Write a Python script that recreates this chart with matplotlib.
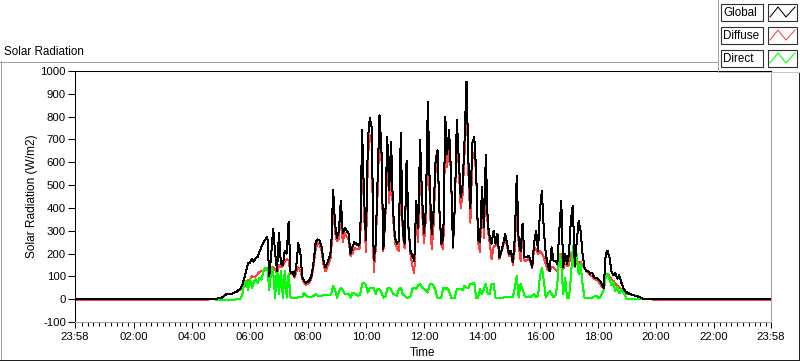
import numpy as np
import matplotlib
matplotlib.use('Agg')
import matplotlib.pyplot as plt
from matplotlib.lines import Line2D
from matplotlib.patches import Rectangle

plt.rcParams['font.family'] = ['Liberation Sans', 'DejaVu Sans']

# ---------------- data (W/m2), 4-minute samples, one row per hour 04..19 ----
row_hours = list(range(4, 20))
sample_minutes = list(range(0, 60, 4))

global_rows = [
    [0, 0, 0, 0, 0, 0, 0, 0, 0, 0, 0, 0, 2, 3, 4],
    [5, 10, 18, 22, 22, 24, 25, 29, 32, 40, 45, 62, 90, 120, 160],
    [160, 175, 165, 180, 185, 210, 230, 250, 262, 272, 100, 200, 310, 205, 125],
    [290, 155, 150, 212, 200, 340, 115, 120, 100, 150, 245, 210, 100, 78, 70],
    [78, 85, 110, 170, 250, 262, 256, 230, 170, 140, 160, 180, 215, 480, 330],
    [270, 300, 432, 290, 314, 300, 287, 199, 230, 250, 243, 235, 250, 740, 450],
    [260, 700, 795, 750, 170, 240, 520, 806, 660, 220, 360, 710, 480, 690, 390],
    [270, 243, 256, 727, 300, 243, 608, 315, 212, 190, 168, 430, 310, 696, 447],
    [290, 400, 865, 491, 287, 389, 608, 652, 389, 243, 271, 799, 638, 740, 550],
    [230, 419, 785, 620, 447, 500, 700, 953, 600, 400, 683, 711, 560, 260, 250],
    [491, 315, 630, 330, 271, 243, 300, 243, 287, 183, 212, 243, 287, 243, 199],
    [212, 161, 271, 542, 243, 212, 330, 183, 183, 190, 175, 140, 250, 300, 212],
    [389, 476, 300, 199, 150, 124, 227, 168, 168, 155, 300, 432, 140, 199, 155],
    [200, 350, 410, 145, 250, 344, 300, 200, 139, 124, 124, 111, 117, 95, 95],
    [88, 80, 67, 50, 199, 212, 180, 120, 105, 115, 90, 105, 75, 51, 36],
    [29, 25, 22, 18, 16, 15, 10, 7, 3, 1, 0, 0, 0, 0, 0],
]

diffuse_rows = [
    [-4, -4, -4, -4, -4, -4, -4, -4, -4, 0, 0, 0, 2, 3, 4],
    [5, 10, 18, 22, 22, 24, 25, 29, 32, 40, 43, 48, 55, 62, 85],
    [85, 100, 95, 100, 110, 120, 125, 125, 128, 135, 70, 110, 140, 130, 110],
    [150, 140, 145, 165, 175, 170, 110, 115, 95, 120, 140, 125, 90, 70, 62],
    [68, 75, 98, 150, 220, 245, 240, 212, 152, 122, 140, 160, 190, 420, 290],
    [255, 265, 380, 250, 290, 275, 262, 190, 200, 225, 220, 218, 228, 660, 380],
    [205, 620, 720, 680, 120, 215, 460, 740, 620, 212, 345, 640, 420, 620, 360],
    [245, 225, 210, 660, 280, 225, 595, 305, 200, 145, 115, 380, 250, 620, 390],
    [245, 355, 820, 420, 220, 325, 565, 640, 380, 235, 220, 750, 580, 700, 540],
    [222, 410, 740, 575, 400, 460, 640, 900, 550, 335, 615, 640, 550, 250, 205],
    [465, 270, 560, 305, 248, 175, 230, 235, 278, 175, 205, 235, 275, 232, 188],
    [200, 150, 220, 440, 235, 168, 290, 168, 170, 175, 165, 135, 225, 220, 200],
    [210, 200, 183, 150, 130, 124, 139, 139, 130, 124, 168, 199, 130, 155, 145],
    [150, 200, 212, 140, 168, 160, 165, 150, 135, 124, 115, 105, 100, 90, 85],
    [80, 67, 55, 45, 111, 111, 100, 85, 80, 67, 58, 51, 44, 40, 30],
    [25, 22, 20, 18, 16, 15, 10, 7, 3, 1, 0, 0, 0, 0, -4],
]

direct_rows = [
    [0, 0, 0, 0, 0, 0, 0, 0, 0, 0, 0, 0, 0, -3, -3],
    [-3, -3, -3, -3, -3, -3, -3, -2, 0, 0, 2, 20, 67, 80, 40],
    [90, 50, 75, 88, 70, 95, 85, 125, 138, 133, 40, 139, 124, 7, 139],
    [22, 124, 7, 124, 7, 110, 7, 7, 7, 7, 8, 8, 10, 29, 15],
    [10, 10, 10, 15, 22, 15, 15, 15, 18, 18, 20, 18, 22, 58, 40],
    [7, 30, 51, 40, 22, 22, 22, 7, 29, 25, 20, 15, 20, 67, 73],
    [60, 29, 51, 51, 51, 22, 44, 44, 30, 7, 10, 44, 51, 44, 22],
    [20, 15, 44, 51, 22, 15, 7, 7, 10, 44, 51, 44, 60, 67, 51],
    [44, 40, 29, 67, 67, 60, 36, 7, 7, 7, 51, 44, 51, 36, 7],
    [7, 7, 44, 44, 44, 40, 58, 51, 51, 67, 67, 73, 7, 7, 44],
    [22, 44, 67, 22, 22, 67, 67, 7, 7, 7, 7, 7, 10, 10, 10],
    [10, 10, 51, 102, 7, 67, 40, 15, 10, 12, 10, 15, 22, 10, 12],
    [102, 139, 80, 7, 22, 36, 22, 10, 15, 67, 199, 155, 22, 95, 7],
    [7, 95, 234, 139, 199, 111, 155, 67, 7, 7, 7, 7, 7, 10, 15],
    [7, 7, 22, 40, 95, 111, 85, 60, 75, 35, 54, 25, 40, 36, 15],
    [0, 0, 0, 0, 0, 0, 0, 0, 0, 0, 0, 0, 0, 0, 0],
]

# night values at the very start (23:58 previous day) and end (23:58)
night_global = 0
night_diffuse = -4
night_direct = 0

series_names = ['Global', 'Diffuse', 'Direct']
series_colors = ['#000000', '#FF4040', '#00FF00']

x_major_labels = ['23:58', '02:00', '04:00', '06:00', '08:00', '10:00', '12:00',
                  '14:00', '16:00', '18:00', '20:00', '22:00', '23:58']
y_ticks = [-100, 0, 100, 200, 300, 400, 500, 600, 700, 800, 900, 1000]

# ---------------- build time axis ----------------
t_start = -2 / 60.0
t_end = 24 - 2 / 60.0
grid = [h + m / 60.0 for h in row_hours for m in sample_minutes]
t = np.concatenate([[t_start], grid, [t_end]])

def build(rows, night):
    return np.concatenate([[night], np.concatenate([np.asarray(r, float) for r in rows]), [night]])

g = build(global_rows, night_global)
f = build(diffuse_rows, night_diffuse)
d = build(direct_rows, night_direct)

# ---------------- figure ----------------
W, H = 800, 361
fig = plt.figure(figsize=(W / 100, H / 100), dpi=100)
fig.patch.set_facecolor('white')

def fx(x):
    return x / W

def fy(y):
    return 1 - y / H

ax = fig.add_axes([fx(75), fy(322), (771 - 75) / W, (322 - 71) / H])
ax.set_facecolor('white')

lw = 0.72
ax.plot(t, f, color=series_colors[1], lw=lw, antialiased=False, zorder=2)
ax.plot(t, d, color=series_colors[2], lw=lw, antialiased=False, zorder=3)
ax.plot(t, g, color=series_colors[0], lw=lw, antialiased=False, zorder=4)

ax.set_xlim(t_start, t_end)
ax.set_ylim(-100, 1000)

major_pos = [t_start] + [float(h) for h in range(2, 24, 2)] + [t_end]
ax.set_xticks(major_pos)
ax.set_xticklabels(x_major_labels)
minor_pos = [m / 60.0 for m in range(0, 24 * 60, 12) if m % 120 != 0]
ax.set_xticks(minor_pos, minor=True)
ax.set_yticks(y_ticks)
ax.set_yticklabels([str(v) for v in y_ticks])

ax.tick_params(axis='x', which='major', direction='out', length=4.5, width=0.75,
               pad=3, labelsize=8.2, colors='black')
ax.tick_params(axis='x', which='minor', direction='out', length=2.8, width=0.75)
ax.tick_params(axis='y', which='major', direction='out', length=5, width=0.75,
               pad=1.5, labelsize=8.2, colors='black')

for side, col in [('top', 'black'), ('left', 'black'), ('right', '#A0A0A0'), ('bottom', '#A0A0A0')]:
    ax.spines[side].set_color(col)
    ax.spines[side].set_linewidth(0.75)

ax.set_ylabel('Solar Radiation (W/m2)', fontsize=8.6, labelpad=2)
ax.set_xlabel('Time', fontsize=8.4, labelpad=3)

# ---------------- panel frame ----------------
def hline(y, x0, x1, color, lw=0.72):
    fig.add_artist(Line2D([fx(x0), fx(x1)], [fy(y), fy(y)], transform=fig.transFigure,
                          color=color, lw=lw, antialiased=False))

def vline(x, y0, y1, color, lw=0.72):
    fig.add_artist(Line2D([fx(x), fx(x)], [fy(y0), fy(y1)], transform=fig.transFigure,
                          color=color, lw=lw, antialiased=False))

hline(61.5, 0, 717, '#A0A0A0')
vline(0.5, 61, 361, '#A0A0A0')
hline(359.5, 0, 800, '#202020')
vline(798.5, 72, 360, '#202020')
# legend container edges
vline(717.5, 0, 72, '#A0A0A0')
hline(71.5, 717, 800, '#C8C8C8')

fig.text(fx(4), fy(55), 'Solar Radiation', fontsize=8.4, ha='left', va='baseline')

# ---------------- legend ----------------
row_tops = [4, 27, 50]
row_h = 16.5
for name, col, top in zip(series_names, series_colors, row_tops):
    fig.add_artist(Rectangle((fx(721), fy(top + row_h)), 42 / W, row_h / H,
                             transform=fig.transFigure, facecolor='white',
                             edgecolor='#303030', lw=0.8))
    fig.text(fx(723.5), fy(top + row_h / 2 + 0.5), name, fontsize=8.4,
             ha='left', va='center')
    fig.add_artist(Rectangle((fx(767.5), fy(top + row_h)), 29.5 / W, row_h / H,
                             transform=fig.transFigure, facecolor='white',
                             edgecolor='#303030', lw=0.8))
    zx = [770, 778, 786, 795]
    zy = [top + 13, top + 3, top + 13, top + 3]
    fig.add_artist(Line2D([fx(v) for v in zx], [fy(v) for v in zy],
                          transform=fig.transFigure, color=col, lw=0.75))

fig.savefig('out.png', dpi=100, facecolor='white')
